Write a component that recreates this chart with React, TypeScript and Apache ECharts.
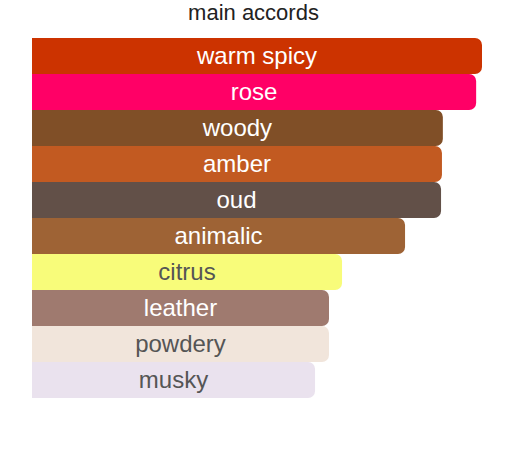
import React, { useEffect, useRef } from "react";
import * as echarts from "echarts";

const accords = [
  "warm spicy",
  "rose",
  "woody",
  "amber",
  "oud",
  "animalic",
  "citrus",
  "leather",
  "powdery",
  "musky",
];
const strength = [100, 98.7, 91.3, 91.1, 90.9, 82.9, 68.9, 66, 66, 62.9];
const barColors = [
  "#cc3300",
  "#ff0066",
  "#804f27",
  "#c25a21",
  "#625048",
  "#9e6335",
  "#f8fc7a",
  "#9f7a6f",
  "#f1e5db",
  "#eae2ee",
];
const labelColors = [
  "#fff",
  "#fff",
  "#fff",
  "#fff",
  "#fff",
  "#fff",
  "#555",
  "#fff",
  "#555",
  "#555",
];

const App = () => {
  const chartRef = useRef<HTMLDivElement>(null);

  useEffect(() => {
    if (!chartRef.current) return;
    const myChart = echarts.init(chartRef.current, null, { renderer: "svg" });

    const option = {
      animation: false,
      title: {
        text: "main accords",
        left: "center",
        top: -4,
        textStyle: {
          fontFamily: "Liberation Sans, Arial, sans-serif",
          fontSize: 22,
          fontWeight: "normal",
          color: "#222",
        },
      },
      grid: { left: 32, top: 38, width: 450, height: 360 },
      xAxis: { type: "value", min: 0, max: 100, show: false },
      yAxis: {
        type: "category",
        inverse: true,
        data: accords,
        show: false,
      },
      series: [
        {
          type: "bar",
          barCategoryGap: 0,
          data: strength.map((v, i) => ({
            value: v,
            itemStyle: { color: barColors[i] },
            label: { color: labelColors[i] },
          })),
          itemStyle: { borderRadius: [0, 7, 7, 0] },
          label: {
            show: true,
            position: "inside",
            offset: [0, -1],
            formatter: (p: any) => accords[p.dataIndex],
            fontFamily: "Liberation Sans, Arial, sans-serif",
            fontSize: 24,
          },
        },
      ],
    };

    myChart.setOption(option);
    return () => {
      myChart.dispose();
    };
  }, []);

  return (
    <div
      ref={chartRef}
      style={{ position: "fixed", left: 0, top: 0, width: "507px", height: "452px", background: "#fff" }}
    />
  );
};

export default App;
